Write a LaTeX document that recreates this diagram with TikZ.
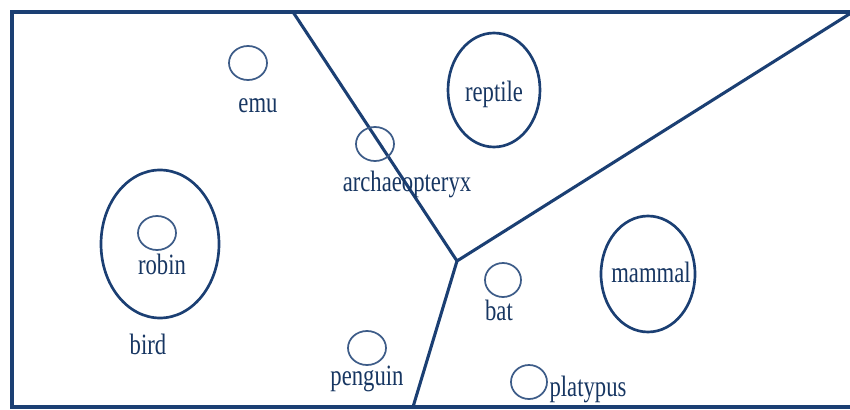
\documentclass[tikz,border=0pt]{standalone}
\usepackage{fontspec}
\setmainfont{Liberation Serif}
\definecolor{inkblue}{HTML}{1B3F73}
\tikzset{
  border/.style={draw=inkblue, line width=2.3pt},
  bigset/.style={draw=inkblue, line width=2pt},
  smallset/.style={draw=inkblue!85, line width=1.3pt},
  word/.style={text=inkblue!85!black, font=\fontsize{17}{20}\selectfont, yscale=1.3, inner sep=0pt}
}

\begin{document}
\begin{tikzpicture}[x=0.75pt, y=-0.75pt]
	\useasboundingbox (0,0) rectangle (850,410);
	% frame, its right side runs off the page
	\draw[border] (853,12) -- (12,12) -- (12,407) -- (853,407);
	% the three borders between the classes
	\coordinate (hub) at (457,261);
	\coordinate (topcut) at (293,12);
	\coordinate (cornercut) at (851,13);
	\coordinate (bottomcut) at (413,407);
	\draw[border] (topcut) -- (hub) -- (cornercut);
	\draw[border] (hub) -- (bottomcut);
	% classes
	\draw[bigset] (160,244) ellipse [x radius=59, y radius=74];
	\draw[bigset] (494,90) ellipse [x radius=46, y radius=57];
	\draw[bigset] (648,274) ellipse [x radius=47, y radius=58];
	% single animals
	\draw[smallset] (248,63) ellipse [x radius=19, y radius=17];
	\draw[smallset] (375,144) ellipse [x radius=19, y radius=17];
	\draw[smallset] (157,233) ellipse [x radius=19, y radius=17];
	\draw[smallset] (367,348) ellipse [x radius=19, y radius=17];
	\draw[smallset] (503,280) ellipse [x radius=18, y radius=17];
	\draw[smallset] (529,382) ellipse [x radius=18, y radius=17];
	% labels
	\node[word] (emu) at (258,106) {emu};
	\node[word] (archaeopteryx) at (407,184) {archaeopteryx};
	\node[word] (reptile) at (494,94) {reptile};
	\node[word] (robin) at (162,264) {robin};
	\node[word] (bird) at (148,344) {bird};
	\node[word] (penguin) at (367,379) {penguin};
	\node[word] (bat) at (499,310) {bat};
	\node[word] (mammal) at (651,272) {mammal};
	\node[word] (platypus) at (588,389) {platypus};
\end{tikzpicture}
\end{document}
